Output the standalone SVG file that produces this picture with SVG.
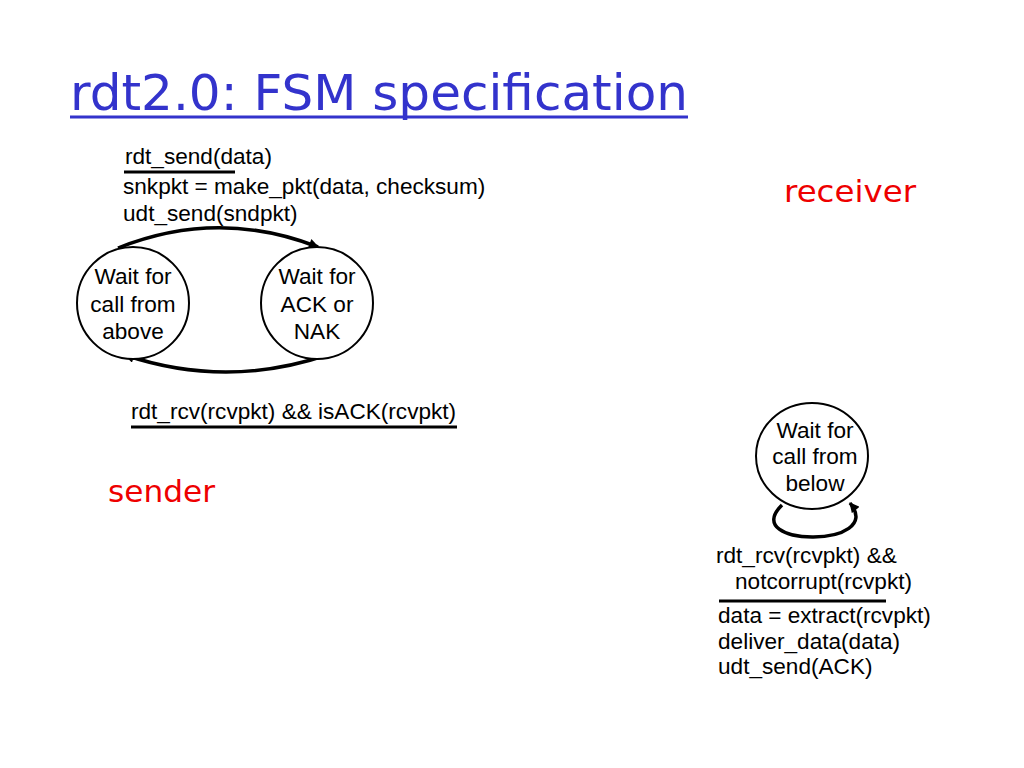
<svg xmlns="http://www.w3.org/2000/svg" width="1024" height="768" viewBox="0 0 1024 768">
<defs>
<style>
.t{font-family:"Liberation Sans",Arial,sans-serif;font-size:22.6px;fill:#000}
.c{text-anchor:middle}
.st{fill:#fff;stroke:#000;stroke-width:2}
.e{fill:none;stroke:#000;stroke-width:3.5}
.bar{stroke:#000;stroke-width:3}
.title{font-family:"Comic Sans MS","DejaVu Sans",sans-serif;font-size:50px;fill:#3333cc}
.red{font-family:"Comic Sans MS","DejaVu Sans",sans-serif;font-size:30px;fill:#ee0000}
</style>
<marker id="ah" viewBox="0 0 10 10" refX="9" refY="5" markerWidth="11" markerHeight="10" markerUnits="userSpaceOnUse" orient="auto">
<path d="M0,0 L10,5 L0,10 z" fill="#000"/>
</marker>
</defs>
<rect width="1024" height="768" fill="#fff"/>
<g id="title">
<text class="title" x="70" y="110" textLength="618" lengthAdjust="spacingAndGlyphs">rdt2.0: FSM specification</text>
<line x1="70" y1="117" x2="688" y2="117" stroke="#3333cc" stroke-width="3"/>
</g>
<text class="red" x="108" y="502" textLength="107" lengthAdjust="spacingAndGlyphs">sender</text>
<text class="red" x="784" y="202" textLength="132" lengthAdjust="spacingAndGlyphs">receiver</text>
<g id="connectors">
<path class="e" d="M118,248 Q218,208 318,247" marker-end="url(#ah)"/>
<path class="e" d="M327,355 Q226,389 125,355" marker-end="url(#ah)"/>
<path class="e" d="M782,505 C738,548 887,548 850,503" marker-end="url(#ah)"/>
</g>
<g id="s-wait-above">
<circle class="st" cx="133" cy="303" r="56"/>
<text class="t c" x="133" y="284">Wait for</text>
<text class="t c" x="133" y="312">call from</text>
<text class="t c" x="133" y="339">above</text>
</g>
<g id="s-wait-ack">
<circle class="st" cx="317" cy="303" r="56"/>
<text class="t c" x="317" y="284">Wait for</text>
<text class="t c" x="317" y="312">ACK or</text>
<text class="t c" x="317" y="339">NAK</text>
</g>
<g id="r-wait-below">
<ellipse class="st" cx="812" cy="456" rx="56" ry="53"/>
<text class="t c" x="815" y="438">Wait for</text>
<text class="t c" x="815" y="464">call from</text>
<text class="t c" x="815" y="491">below</text>
</g>
<g id="label-send">
<text class="t" x="125" y="164">rdt_send(data)</text>
<line class="bar" x1="124" y1="172" x2="235" y2="172"/>
<text class="t" x="123" y="194">snkpkt = make_pkt(data, checksum)</text>
<text class="t" x="123" y="221">udt_send(sndpkt)</text>
</g>
<g id="label-ack">
<text class="t" x="131" y="419">rdt_rcv(rcvpkt) &amp;&amp; isACK(rcvpkt)</text>
<line class="bar" x1="131" y1="427" x2="457" y2="427"/>
</g>
<g id="label-recv">
<text class="t" x="716" y="563">rdt_rcv(rcvpkt) &amp;&amp;</text>
<text class="t" x="735" y="589">notcorrupt(rcvpkt)</text>
<line class="bar" x1="719" y1="601" x2="886" y2="601"/>
<text class="t" x="718" y="623">data = extract(rcvpkt)</text>
<text class="t" x="718" y="649">deliver_data(data)</text>
<text class="t" x="718" y="674">udt_send(ACK)</text>
</g>
</svg>
